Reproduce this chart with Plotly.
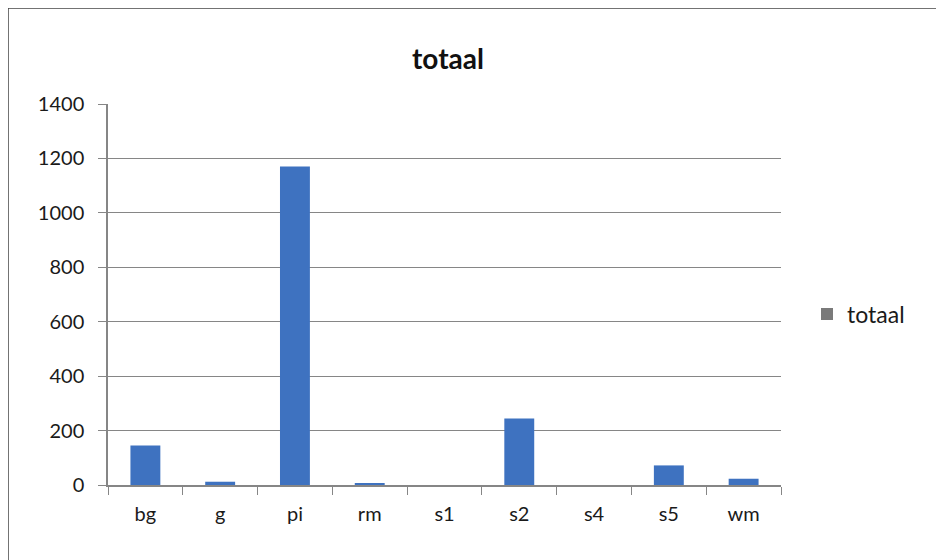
import plotly.graph_objects as go

categories = ["bg", "g", "pi", "rm", "s1", "s2", "s4", "s5", "wm"]
totaal = [145, 12, 1170, 4, 0, 244, 0, 72, 23]
y_ticks = [0, 200, 400, 600, 800, 1000, 1200, 1400]

FONT = "Lato, 'Open Sans', sans-serif"
L, T, PW, PH = 100, 96, 673, 381

fig = go.Figure()
fig.add_trace(go.Bar(
    x=categories, y=totaal, name="totaal",
    marker=dict(color="#3e72c0", line=dict(width=0)),
    width=0.4, showlegend=False,
))
fig.add_trace(go.Scatter(
    x=[categories[0]], y=[None], name="totaal", mode="markers",
    marker=dict(symbol="square", size=12, color="#7a7a7a"),
))

fig.update_layout(
    width=944, height=560,
    margin=dict(l=L, r=944 - L - PW, t=T, b=560 - T - PH),
    paper_bgcolor="white", plot_bgcolor="white",
    font=dict(family=FONT, size=20, color="#1a1a1a"),
    title=dict(text="<b>totaal</b>", x=440 / 944, xanchor="center",
               y=1 - 51 / 560, yanchor="middle", font=dict(size=28, color="#111")),
    bargap=0.6,
    xaxis=dict(
        type="category", showgrid=False, showline=True, linecolor="#868686",
        linewidth=1.5, ticks="outside", tickson="boundaries", ticklen=8,
        tickcolor="#868686", tickfont=dict(size=20), range=[-0.5, 8.5],
        ticklabelstandoff=10,
    ),
    yaxis=dict(
        range=[0, 1400], tickvals=y_ticks, showgrid=True, gridcolor="#868686",
        gridwidth=1.2, showline=True, linecolor="#868686", linewidth=1.5,
        ticks="outside", ticklen=8, tickcolor="#868686", zeroline=False,
        tickfont=dict(size=20), ticklabelstandoff=10,
    ),
    legend=dict(x=(799 - L) / PW, xanchor="left", y=0.449, yanchor="middle",
                font=dict(size=23), bgcolor="rgba(0,0,0,0)"),
    shapes=[
        dict(type="line", xref="paper", yref="paper",
             x0=(0 - L) / PW, x1=(0 - L) / PW,
             y0=(T + PH - 560) / PH, y1=(T + PH - 0) / PH,
             line=dict(color="#444", width=1.5)),
        dict(type="line", xref="paper", yref="paper",
             x0=(0 - L) / PW, x1=(944 - L) / PW,
             y0=(T + PH - 0) / PH, y1=(T + PH - 0) / PH,
             line=dict(color="#444", width=1.5)),
    ],
)

fig.write_html("out.html")
